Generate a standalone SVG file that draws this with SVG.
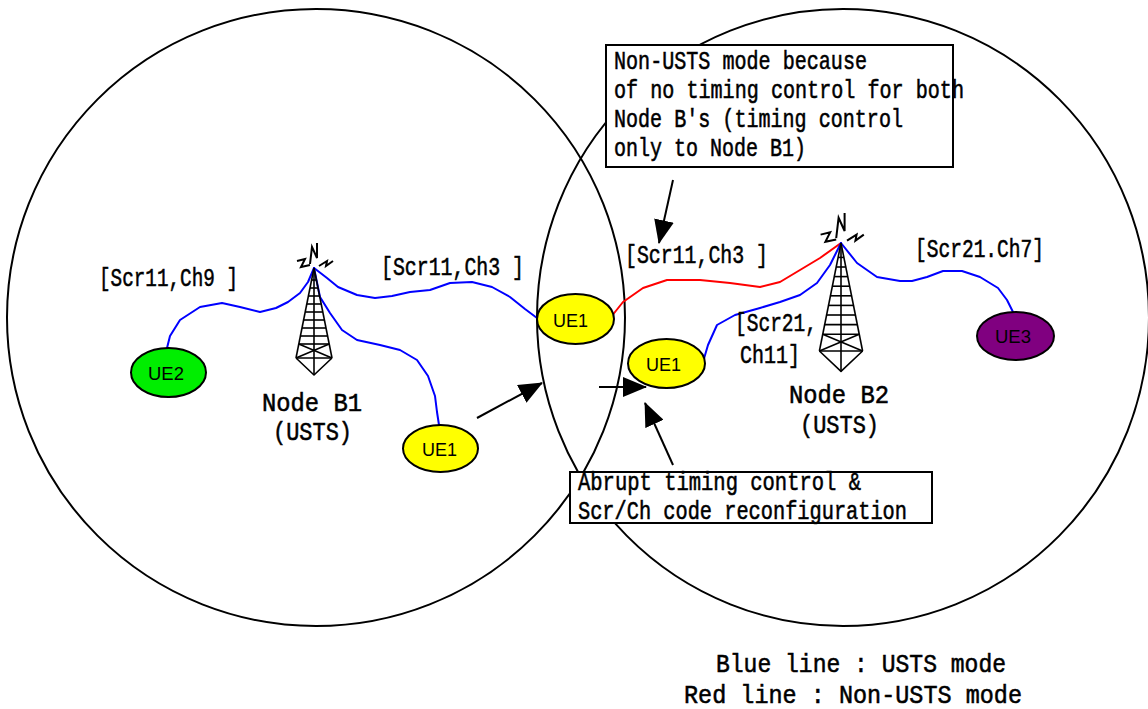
<svg xmlns="http://www.w3.org/2000/svg" xmlns:xlink="http://www.w3.org/1999/xlink" width="1148" height="709" viewBox="0 0 1148 709">
<style>
.cell{fill:none;stroke:#000;stroke-width:2}
.link{fill:none;stroke-width:2;stroke-linejoin:round;stroke-linecap:round}
.blue{stroke:#0000ff}
.red{stroke:#ff0000}
.tw{fill:none;stroke:#000;stroke-width:1.6;stroke-linejoin:round}
.ant{fill:none;stroke:#000;stroke-width:2;stroke-linejoin:miter}
.ue{stroke:#000;stroke-width:2}
.uet{font-family:"Liberation Sans",Arial,sans-serif;font-size:19px;fill:#000}
.lbl{font-family:"Liberation Mono","Courier New",monospace;font-size:26px;fill:#000;stroke:#000;stroke-width:0.55}
.box{fill:#fff;stroke:#000;stroke-width:2}
.arr{stroke:#000;stroke-width:2;fill:none}
</style>
<defs>
<marker id="ah" markerUnits="userSpaceOnUse" markerWidth="24" markerHeight="20" viewBox="0 0 24 20" refX="23" refY="10" orient="auto">
<path d="M0,0 L24,10 L0,20 z" fill="#000"/>
</marker>
<g id="tower">
<g class="tw">
<line x1="0" y1="0" x2="-18" y2="90" vector-effect="non-scaling-stroke"/>
<line x1="0" y1="0" x2="18" y2="90" vector-effect="non-scaling-stroke"/>
<line x1="0" y1="0" x2="0" y2="107" vector-effect="non-scaling-stroke"/>
<polyline points="-18,90 0,107 18,90" vector-effect="non-scaling-stroke"/>
<line x1="-2.4" y1="12" x2="2.4" y2="12" vector-effect="non-scaling-stroke"/>
<line x1="-4" y1="20" x2="4" y2="20" vector-effect="non-scaling-stroke"/>
<line x1="-5.6" y1="28" x2="5.6" y2="28" vector-effect="non-scaling-stroke"/>
<line x1="-7.2" y1="36" x2="7.2" y2="36" vector-effect="non-scaling-stroke"/>
<line x1="-8.8" y1="44" x2="8.8" y2="44" vector-effect="non-scaling-stroke"/>
<line x1="-10.4" y1="52" x2="10.4" y2="52" vector-effect="non-scaling-stroke"/>
<line x1="-12" y1="60" x2="12" y2="60" vector-effect="non-scaling-stroke"/>
<line x1="-13.6" y1="68" x2="13.6" y2="68" vector-effect="non-scaling-stroke"/>
<line x1="-15.2" y1="76" x2="15.2" y2="76" vector-effect="non-scaling-stroke"/>
<line x1="-15.2" y1="76" x2="18" y2="90" vector-effect="non-scaling-stroke"/>
<line x1="15.2" y1="76" x2="-18" y2="90" vector-effect="non-scaling-stroke"/>
<line x1="-18" y1="90" x2="18" y2="90" vector-effect="non-scaling-stroke"/>
</g>
<g class="ant">
<polyline points="-17,-7 -9,-9 -13,-1 -4,-3" vector-effect="non-scaling-stroke"/>
<polyline points="-4,-4 -2,-21 3,-10 3,-25" vector-effect="non-scaling-stroke"/>
<polyline points="5,-2 13,-7 12,-2 19,-7" vector-effect="non-scaling-stroke"/>
</g>
</g>
</defs>
<rect width="1148" height="709" fill="#fff"/>

<g id="cell-B1">
<ellipse class="cell" cx="316" cy="317.5" rx="309" ry="308.5"/>
</g>
<g id="cell-B2">
<ellipse class="cell" cx="843" cy="317.5" rx="306" ry="308.5"/>
</g>

<g id="connectors">
<polyline class="link blue" points="314,268 308,282 300,293 288,302 276,308 260,312 240,307 222,303 200,307 180,320 170,336 167,348"/>
<polyline class="link blue" points="314,268 327,278 338,287 357,295 375,298 392,296 410,292 430,290 450,283 472,282 492,287 510,297 525,309 537,318"/>
<polyline class="link blue" points="314,268 320,297 330,313 342,330 357,340 380,345 400,350 417,360 428,376 435,396 437,412 439,425"/>
<polyline class="link red" points="611,317 623,302 643,288 667,280 700,280 730,283 760,287 780,282 800,270 820,258 841,243"/>
<polyline class="link blue" points="703,362 708,345 717,325 735,315 760,308 780,302 800,295 817,283 830,265 841,243"/>
<polyline class="link blue" points="841,243 857,263 877,277 900,281 912,281 927,277 943,271 962,271 980,277 998,288 1007,300 1013,312"/>
</g>

<g id="nodeB1">
<use xlink:href="#tower" href="#tower" transform="translate(314,268)"/>
<text class="lbl" x="262" y="411" textLength="100" lengthAdjust="spacingAndGlyphs">Node B1</text>
<text class="lbl" x="273" y="440" textLength="79" lengthAdjust="spacingAndGlyphs">(USTS)</text>
</g>
<g id="nodeB2">
<use xlink:href="#tower" href="#tower" transform="translate(841,243) scale(1.2)"/>
<text class="lbl" x="789" y="403" textLength="100" lengthAdjust="spacingAndGlyphs">Node B2</text>
<text class="lbl" x="800" y="433" textLength="79" lengthAdjust="spacingAndGlyphs">(USTS)</text>
</g>

<g id="ue2">
<ellipse class="ue" cx="168.5" cy="372.5" rx="37.5" ry="24.5" fill="#00ee00"/>
<text class="uet" x="148" y="380" textLength="36" lengthAdjust="spacingAndGlyphs">UE2</text>
</g>
<g id="ue1-lower">
<ellipse class="ue" cx="440.5" cy="448.5" rx="37.5" ry="23.5" fill="#ffff00"/>
<text class="uet" x="422" y="456" textLength="35" lengthAdjust="spacingAndGlyphs">UE1</text>
</g>
<g id="ue1-overlap">
<ellipse class="ue" cx="575.5" cy="319" rx="38.5" ry="25" fill="#ffff00"/>
<text class="uet" x="553" y="327" textLength="35" lengthAdjust="spacingAndGlyphs">UE1</text>
</g>
<g id="ue1-b2">
<ellipse class="ue" cx="666.5" cy="363.5" rx="38.5" ry="24.5" fill="#ffff00"/>
<text class="uet" x="646" y="371" textLength="35" lengthAdjust="spacingAndGlyphs">UE1</text>
</g>
<g id="ue3">
<ellipse class="ue" cx="1015.5" cy="336" rx="38.5" ry="24" fill="#800080"/>
<text class="uet" x="995" y="343" textLength="36" lengthAdjust="spacingAndGlyphs">UE3</text>
</g>

<g id="labels">
<text class="lbl" x="99" y="286" textLength="139" lengthAdjust="spacingAndGlyphs">[Scr11,Ch9 ]</text>
<text class="lbl" x="381" y="275" textLength="143" lengthAdjust="spacingAndGlyphs">[Scr11,Ch3 ]</text>
<text class="lbl" x="625" y="263" textLength="143" lengthAdjust="spacingAndGlyphs">[Scr11,Ch3 ]</text>
<text class="lbl" x="915" y="257" textLength="129" lengthAdjust="spacingAndGlyphs">[Scr21.Ch7]</text>
<text class="lbl" x="735" y="331" textLength="82" lengthAdjust="spacingAndGlyphs">[Scr21,</text>
<text class="lbl" x="740" y="363" textLength="60" lengthAdjust="spacingAndGlyphs">Ch11]</text>
</g>

<g id="note-top">
<rect class="box" x="606" y="45" width="347" height="122"/>
<text class="lbl" x="614" y="69" textLength="253" lengthAdjust="spacingAndGlyphs">Non-USTS mode because</text>
<text class="lbl" x="614" y="98" textLength="350" lengthAdjust="spacingAndGlyphs">of no timing control for both</text>
<text class="lbl" x="614" y="127" textLength="289" lengthAdjust="spacingAndGlyphs">Node B's (timing control</text>
<text class="lbl" x="614" y="156" textLength="192" lengthAdjust="spacingAndGlyphs">only to Node B1)</text>
</g>

<g id="note-bottom">
<rect class="box" x="570" y="472" width="362" height="51"/>
<text class="lbl" x="578" y="490" textLength="283" lengthAdjust="spacingAndGlyphs">Abrupt timing control &amp;</text>
<text class="lbl" x="578" y="519" textLength="329" lengthAdjust="spacingAndGlyphs">Scr/Ch code reconfiguration</text>
</g>

<g id="arrows">
<line class="arr" x1="673" y1="180" x2="659" y2="243" marker-end="url(#ah)"/>
<line class="arr" x1="477" y1="418" x2="542" y2="383" marker-end="url(#ah)"/>
<line class="arr" x1="599" y1="387" x2="646" y2="387" marker-end="url(#ah)"/>
<line class="arr" x1="673" y1="465" x2="645" y2="403" marker-end="url(#ah)"/>
</g>

<g id="legend">
<text class="lbl" x="716" y="672" textLength="290" lengthAdjust="spacingAndGlyphs">Blue line : USTS mode</text>
<text class="lbl" x="684" y="703" textLength="338" lengthAdjust="spacingAndGlyphs">Red line : Non-USTS mode</text>
</g>
</svg>
